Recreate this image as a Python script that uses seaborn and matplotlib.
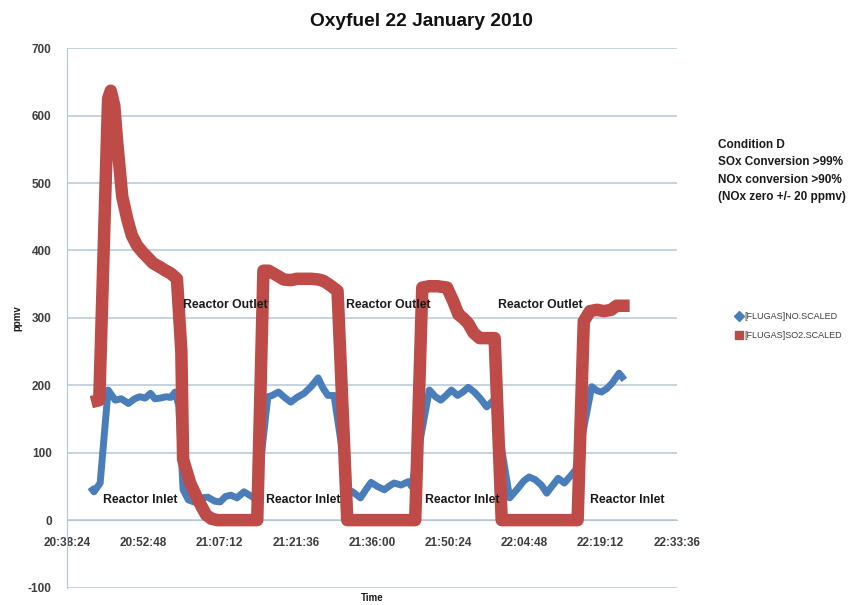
import pandas as pd
import matplotlib
matplotlib.use("Agg")
import matplotlib.pyplot as plt
import matplotlib.dates as mdates
from matplotlib.lines import Line2D
import seaborn as sns

DAY = "2010-01-22 "

# [FLUGAS]NO.SCALED
no_times = ["20:42:50", "20:43:30", "20:44:40", "20:46:10", "20:47:30", "20:48:40", "20:50:00",
            "20:51:10", "20:52:10", "20:53:10", "20:54:10", "20:55:00", "20:56:00", "20:57:10",
            "20:58:00", "20:58:50", "20:59:30", "21:00:20", "21:01:20", "21:02:20", "21:03:40",
            "21:05:00", "21:06:20", "21:07:20", "21:08:20", "21:09:20", "21:10:30", "21:11:50",
            "21:12:40", "21:13:30", "21:14:10", "21:16:20", "21:17:10", "21:18:20", "21:19:30",
            "21:20:40", "21:21:50", "21:23:10", "21:24:30", "21:25:50", "21:26:40", "21:27:40",
            "21:28:50", "21:31:30", "21:32:20", "21:33:50", "21:34:50", "21:35:50", "21:37:00",
            "21:38:20", "21:39:10", "21:40:10", "21:41:30", "21:42:50", "21:43:30", "21:46:50",
            "21:48:00", "21:49:00", "21:50:00", "21:51:00", "21:52:10", "21:53:10", "21:54:10",
            "21:55:20", "21:56:30", "21:57:40", "21:59:00", "22:02:00", "22:03:20", "22:04:40",
            "22:05:40", "22:06:50", "22:08:00", "22:09:00", "22:10:10", "22:11:10", "22:12:20",
            "22:13:40", "22:14:30", "22:17:30", "22:18:30", "22:19:20", "22:20:20", "22:21:20",
            "22:22:40", "22:23:40"]
no_values = [49, 42, 55, 193, 178, 180, 173, 180, 183, 181, 188, 180, 181, 183, 182, 190, 170,
             45, 30, 27, 33, 34, 28, 27, 35, 37, 33, 42, 38, 34, 30, 183, 185, 190, 182, 175,
             182, 188, 198, 211, 197, 185, 185, 45, 42, 33, 45, 56, 50, 45, 50, 55, 52, 57, 50,
             193, 183, 178, 185, 193, 185, 190, 197, 190, 180, 168, 178, 33, 45, 58, 64, 60, 52,
             40, 52, 62, 55, 67, 75, 198, 192, 190, 195, 203, 218, 208]

# [FLUGAS]SO2.SCALED
so2_times = ["20:43:00", "20:44:30", "20:46:10", "20:46:40", "20:47:20", "20:47:50", "20:48:50",
             "20:49:50", "20:50:40", "20:51:40", "20:52:50", "20:53:50", "20:54:40", "20:55:50",
             "20:56:50", "20:58:00", "20:59:10", "21:00:00", "21:00:20", "21:01:40", "21:02:50",
             "21:03:50", "21:04:40", "21:05:40", "21:06:50", "21:10:00", "21:14:20", "21:15:30",
             "21:16:30", "21:17:50", "21:19:20", "21:20:40", "21:21:50", "21:23:10", "21:24:30",
             "21:25:50", "21:26:50", "21:28:10", "21:29:30", "21:31:20", "21:36:00", "21:40:00",
             "21:44:10", "21:45:30", "21:46:50", "21:48:20", "21:50:10", "21:51:20", "21:52:20",
             "21:53:10", "21:54:10", "21:55:10", "21:56:20", "21:57:40", "21:59:10", "22:00:30",
             "22:05:00", "22:10:00", "22:14:50", "22:16:00", "22:17:10", "22:18:30", "22:19:50",
             "22:21:10", "22:22:10", "22:23:30", "22:24:40"]
so2_values = [175, 178, 625, 637, 615, 565, 480, 445, 422, 407, 396, 388, 381, 376, 371, 366,
              358, 250, 90, 55, 35, 20, 8, 2, 0, 0, 0, 370, 370, 364, 357, 356, 358, 358, 358,
              357, 355, 348, 340, 0, 0, 0, 0, 345, 347, 347, 345, 325, 305, 300, 292, 278, 270,
              270, 270, 0, 0, 0, 0, 295, 310, 312, 310, 312, 318, 318, 318]

tick_labels = ["20:38:24", "20:52:48", "21:07:12", "21:21:36", "21:36:00",
               "21:50:24", "22:04:48", "22:19:12", "22:33:36"]
y_ticks = [-100, 0, 100, 200, 300, 400, 500, 600, 700]

series_names = ["[FLUGAS]NO.SCALED", "[FLUGAS]SO2.SCALED"]
outlet_label = "Reactor Outlet"
inlet_label = "Reactor Inlet"
condition_text = "Condition D\nSOx Conversion >99%\nNOx conversion >90%\n(NOx zero +/- 20 ppmv)"

BLUE = "#4a7ebb"
RED = "#be4b48"
GRID = "#b4c7d6"
TXT = "#1a1a1a"
TICK_TXT = "#3d3d3d"

sns.set_style("white")
plt.rcParams["font.family"] = ["Liberation Sans", "DejaVu Sans"]
plt.rcParams["axes.unicode_minus"] = False

no_df = pd.DataFrame({"time": pd.to_datetime([DAY + t for t in no_times]), "ppmv": no_values})
so2_df = pd.DataFrame({"time": pd.to_datetime([DAY + t for t in so2_times]), "ppmv": so2_values})
tick_times = pd.to_datetime([DAY + t for t in tick_labels])

fig = plt.figure(figsize=(8.51, 6.05), dpi=100)
ax = fig.add_axes([0.0787, 0.0289, 0.7168, 0.8913])

sns.lineplot(data=no_df, x="time", y="ppmv", ax=ax, color=BLUE, lw=5, estimator=None,
             solid_joinstyle="round", solid_capstyle="butt")
sns.lineplot(data=so2_df, x="time", y="ppmv", ax=ax, color=RED, lw=9, estimator=None,
             solid_joinstyle="round", solid_capstyle="butt")

ax.set_xlim(tick_times[0], tick_times[-1])
ax.set_ylim(y_ticks[0], y_ticks[-1])
ax.set_xticks(mdates.date2num(tick_times))
ax.set_xticklabels(tick_labels)
ax.set_yticks(y_ticks)

ax.yaxis.grid(True, color=GRID, lw=1.1)
ax.xaxis.grid(False)
ax.set_axisbelow(True)
for s in ["top", "right"]:
    ax.spines[s].set_visible(False)
ax.spines["bottom"].set_position(("data", 0))
ax.spines["bottom"].set_color(GRID)
ax.spines["left"].set_color(GRID)
ax.spines["bottom"].set_zorder(0.5)
ax.tick_params(axis="x", direction="out", length=3, width=1, color=GRID, pad=9,
               labelsize=8.5, labelcolor=TICK_TXT)
ax.tick_params(axis="y", direction="out", length=4, width=1, color=GRID, pad=7,
               labelsize=8.5, labelcolor=TICK_TXT)
for lab in ax.get_xticklabels() + ax.get_yticklabels():
    lab.set_fontweight("bold")

ax.set_xlabel("")
ax.set_ylabel("ppmv", fontsize=7, fontweight="bold", color=TXT, labelpad=4)
fig.text(372 / 851, 1 - 598 / 605, "Time", ha="center", va="center",
         fontsize=7, fontweight="bold", color=TXT)

fig.text(421 / 851, 1 - 21 / 605, "Oxyfuel 22 January 2010", ha="center", va="center",
         fontsize=13.8, fontweight="bold", color="#111111")

# region labels
for px in [225, 388, 540]:
    ax.text((px - 67) / 610, (587.4 - 305) / 539.1, outlet_label, transform=ax.transAxes,
            ha="center", va="center", fontsize=8.8, fontweight="bold", color=TXT)
for px in [140, 303, 462, 627]:
    ax.text((px - 67) / 610, (587.4 - 500) / 539.1, inlet_label, transform=ax.transAxes,
            ha="center", va="center", fontsize=8.8, fontweight="bold", color=TXT)

fig.text(718 / 851, 1 - 139 / 605, condition_text, ha="left", va="top",
         fontsize=8.5, fontweight="bold", color=TXT, linespacing=1.6)

handles = [Line2D([], [], ls="none", marker="D", markersize=5, color=BLUE),
           Line2D([], [], ls="none", marker="s", markersize=6, color=RED)]
fig.legend(handles, series_names, loc="center left", bbox_to_anchor=(731 / 851, 1 - 326 / 605),
           frameon=False, fontsize=6.5, handletextpad=0.1, handlelength=1.0,
           labelspacing=1.1, labelcolor=TICK_TXT, borderaxespad=0)

fig.savefig("out.png", dpi=100)
